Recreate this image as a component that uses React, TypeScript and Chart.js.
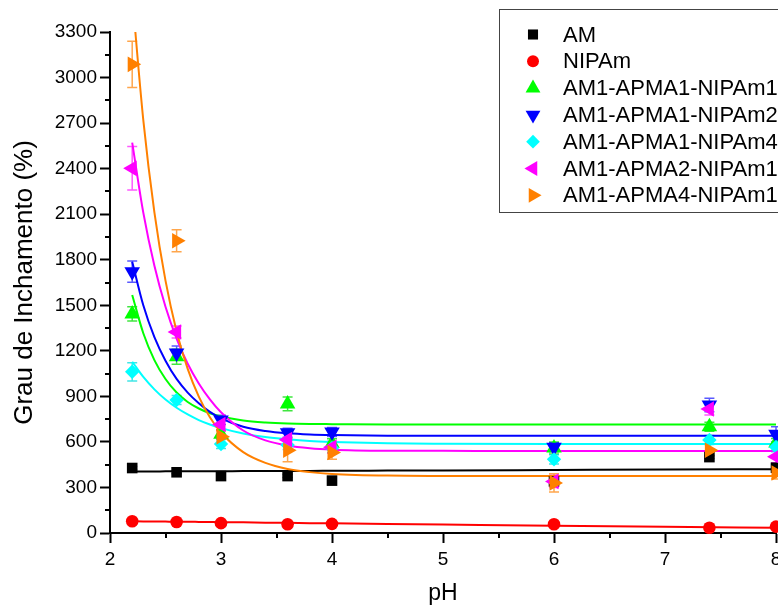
import React, { useEffect, useRef } from 'react';
import { Chart, registerables } from 'chart.js';
import { drawPoint } from 'chart.js/helpers';

Chart.register(...registerables);

const FONT = 'Arial, "Liberation Sans", sans-serif';

// Measured pH values
const PH = [2.2, 2.6, 3.0, 3.6, 4.0, 6.0, 7.4, 8.0];

const SERIES_NAMES = [
  'AM',
  'NIPAm',
  'AM1-APMA1-NIPAm1',
  'AM1-APMA1-NIPAm2',
  'AM1-APMA1-NIPAm4',
  'AM1-APMA2-NIPAm1',
  'AM1-APMA4-NIPAm1',
];
const COLORS = ['#000000', '#ff0000', '#00ff00', '#0000ff', '#00ffff', '#ff00ff', '#ff8000'];
const ERR_COLORS = ['rgba(0,0,0,0.7)', 'rgba(255,0,0,0.7)', 'rgba(0,220,0,0.75)', 'rgba(0,0,255,0.65)', 'rgba(0,220,220,0.75)', 'rgba(255,0,255,0.65)', 'rgba(255,128,0,0.7)'];
const POINT_STYLES = ['rect', 'circle', 'triangle', 'triangle', 'rectRot', 'triangle', 'triangle'];
const POINT_ROTATIONS = [0, 0, 0, 180, 0, 270, 90];
const POINT_RADII = [7.5, 6.3, 9, 9, 7.2, 9, 9];

// Swelling degree (%) values
const AM = [428, 400, 375, 375, 345, 340, 500, 430];
const NIPAM = [77, 72, 65, 58, 60, 58, 35, 42];
const APMA1_NIPAM1 = [1443, 1161, 650, 850, 590, 560, 700, 593];
const APMA1_NIPAM2 = [1721, 1186, 745, 660, 665, 565, 843, 650];
const APMA1_NIPAM4 = [1062, 876, 586, 580, 560, 485, 613, 566];
const APMA2_NIPAM1 = [2402, 1324, 715, 615, 565, 340, 817, 503];
const APMA4_NIPAM1 = [3087, 1925, 634, 545, 530, 330, 545, 395];

// Error bars (±)
const AM_ERR = [10, 10, 10, 10, 10, 10, 10, 10];
const NIPAM_ERR = [5, 5, 5, 5, 5, 5, 5, 5];
const APMA1_NIPAM1_ERR = [47, 50, 30, 45, 30, 40, 30, 30];
const APMA1_NIPAM2_ERR = [70, 45, 30, 30, 30, 30, 45, 50];
const APMA1_NIPAM4_ERR = [60, 30, 30, 30, 30, 30, 30, 30];
const APMA2_NIPAM1_ERR = [143, 40, 40, 40, 40, 40, 40, 40];
const APMA4_NIPAM1_ERR = [152, 73, 40, 75, 45, 60, 40, 40];

// Fitted curves
const FIT_PH = [2.2, 2.3, 2.4, 2.5, 2.6, 2.7, 2.8, 2.9, 3.0, 3.2, 3.4, 3.6, 3.8, 4.0, 4.5, 5, 6, 7, 8];
const FIT_AM = [405, 405, 405, 406, 406, 406, 406, 407, 407, 408, 408, 409, 409, 410, 411, 412, 415, 418, 420];
const FIT_NIPAM = [77, 76, 76, 75, 74, 74, 73, 72, 71, 70, 68, 67, 65, 64, 60, 56, 48, 41, 35];
const FIT_APMA1_NIPAM1 = [1568, 1316, 1139, 1014, 925, 863, 820, 789, 767, 741, 728, 721, 718, 717, 715, 715, 715, 715, 715];
const FIT_APMA1_NIPAM2 = [1787, 1500, 1290, 1135, 1015, 925, 855, 798, 755, 700, 672, 657, 649, 645, 641, 640, 640, 640, 640];
const FIT_APMA1_NIPAM4 = [1128, 1028, 946, 879, 825, 781, 744, 715, 691, 656, 632, 617, 606, 600, 591, 588, 586, 586, 586];
const FIT_APMA2_NIPAM1 = [2571, 2110, 1760, 1490, 1280, 1115, 985, 880, 795, 675, 610, 576, 558, 549, 542, 541, 540, 540, 540];
const FIT_APMA4_NIPAM1 = [3540, 2720, 2112, 1662, 1328, 1081, 898, 762, 662, 533, 462, 422, 401, 389, 378, 376, 375, 375, 375];

const SERIES = [AM, NIPAM, APMA1_NIPAM1, APMA1_NIPAM2, APMA1_NIPAM4, APMA2_NIPAM1, APMA4_NIPAM1];
const ERRORS = [AM_ERR, NIPAM_ERR, APMA1_NIPAM1_ERR, APMA1_NIPAM2_ERR, APMA1_NIPAM4_ERR, APMA2_NIPAM1_ERR, APMA4_NIPAM1_ERR];
const FITS = [FIT_AM, FIT_NIPAM, FIT_APMA1_NIPAM1, FIT_APMA1_NIPAM2, FIT_APMA1_NIPAM4, FIT_APMA2_NIPAM1, FIT_APMA4_NIPAM1];

// Axis ticks
const X_MIN = 2, X_MAX = 8, X_STEP = 1;
const Y_MIN = 0, Y_MAX = 3300, Y_STEP = 300;
const X_MINOR = [2.5, 3.5, 4.5, 5.5, 6.5, 7.5];
const Y_MINOR = [150, 450, 750, 1050, 1350, 1650, 1950, 2250, 2550, 2850, 3150];

const X_TITLE = 'pH';
const Y_TITLE = 'Grau de Inchamento (%)';

const errorBarsPlugin = {
  id: 'errorBars',
  beforeDatasetsDraw(chart: any) {
    const { ctx, scales } = chart;
    const xs = scales.x, ys = scales.y;
    ctx.save();
    ctx.lineWidth = 1.5;
    SERIES.forEach((vals, si) => {
      ctx.strokeStyle = ERR_COLORS[si];
      vals.forEach((v, i) => {
        const e = ERRORS[si][i];
        if (!e) return;
        const px = xs.getPixelForValue(PH[i]);
        const pTop = ys.getPixelForValue(v + e);
        const pBot = ys.getPixelForValue(v - e);
        ctx.beginPath();
        ctx.moveTo(px, pTop); ctx.lineTo(px, pBot);
        ctx.moveTo(px - 5, pTop); ctx.lineTo(px + 5, pTop);
        ctx.moveTo(px - 5, pBot); ctx.lineTo(px + 5, pBot);
        ctx.stroke();
      });
    });
    ctx.restore();
  },
};

const minorTicksPlugin = {
  id: 'minorTicks',
  afterDraw(chart: any) {
    const { ctx, scales, chartArea } = chart;
    ctx.save();
    ctx.strokeStyle = '#000';
    ctx.lineWidth = 2;
    ctx.beginPath();
    Y_MINOR.forEach((v) => {
      const py = Math.round(scales.y.getPixelForValue(v));
      ctx.moveTo(chartArea.left, py);
      ctx.lineTo(chartArea.left - 5, py);
    });
    X_MINOR.forEach((v) => {
      const px = Math.round(scales.x.getPixelForValue(v));
      ctx.moveTo(px, chartArea.bottom);
      ctx.lineTo(px, chartArea.bottom + 5);
    });
    ctx.stroke();
    ctx.restore();
  },
};

const legendPlugin = {
  id: 'customLegend',
  afterDraw(chart: any) {
    const { ctx } = chart;
    ctx.save();
    const bx = 499.5, by = 9.5, bw = 320, bh = 203;
    ctx.fillStyle = '#ffffff';
    ctx.fillRect(bx, by, bw, bh);
    ctx.strokeStyle = '#444';
    ctx.lineWidth = 1;
    ctx.strokeRect(bx, by, bw, bh);
    ctx.font = `22px ${FONT}`;
    ctx.textBaseline = 'middle';
    ctx.textAlign = 'left';
    SERIES_NAMES.forEach((name, i) => {
      const y = 34.5 + i * 26.8;
      ctx.fillStyle = COLORS[i];
      ctx.strokeStyle = COLORS[i];
      drawPoint(ctx, { pointStyle: POINT_STYLES[i], rotation: POINT_ROTATIONS[i], radius: POINT_RADII[i] * 0.95, borderWidth: 0 } as any, 533, y);
      ctx.fillStyle = '#000';
      ctx.fillText(name, 563, y + 1);
    });
    ctx.restore();
  },
};

export default function App() {
  const ref = useRef<HTMLCanvasElement | null>(null);

  useEffect(() => {
    document.body.style.margin = '0';
    const canvas = ref.current;
    if (!canvas) return;

    const fitSets = FITS.map((vals, si) => ({
      label: SERIES_NAMES[si] + ' fit',
      data: FIT_PH.map((x, i) => ({ x, y: vals[i] })),
      showLine: true,
      borderColor: COLORS[si],
      backgroundColor: COLORS[si],
      borderWidth: 2,
      pointRadius: 0,
      cubicInterpolationMode: 'monotone' as const,
      order: 30 - si,
    }));

    const pointSets = SERIES.map((vals, si) => ({
      label: SERIES_NAMES[si],
      data: PH.map((x, i) => ({ x, y: vals[i] })),
      showLine: false,
      pointStyle: POINT_STYLES[si],
      rotation: POINT_ROTATIONS[si],
      pointRadius: POINT_RADII[si],
      borderWidth: 0,
      backgroundColor: COLORS[si],
      borderColor: COLORS[si],
      clip: false,
      order: 10 - si,
    }));

    const chart = new Chart(canvas, {
      type: 'scatter',
      data: { datasets: [...fitSets, ...pointSets] as any },
      plugins: [errorBarsPlugin, minorTicksPlugin, legendPlugin],
      options: {
        animation: false,
        responsive: false,
        devicePixelRatio: 1,
        events: [],
        layout: { padding: { top: 32, right: 2, left: 0, bottom: 0 }, autoPadding: false } as any,
        plugins: { legend: { display: false }, tooltip: { enabled: false } },
        scales: {
          x: {
            type: 'linear',
            min: X_MIN,
            max: X_MAX,
            ticks: {
              stepSize: X_STEP,
              color: '#000',
              font: { size: 19, family: FONT },
              padding: 5,
              maxRotation: 0,
              autoSkip: false,
              callback: (v: any) => String(v),
            },
            grid: { drawOnChartArea: false, drawTicks: true, tickLength: 10, tickWidth: 2, tickColor: '#000' },
            border: { display: true, color: '#000', width: 2 },
            title: { display: true, text: X_TITLE, color: '#000', font: { size: 23, family: FONT }, padding: { top: 0, bottom: 0 } },
            afterFit: (s: any) => { s.height = 74; s.paddingLeft = 0; s.paddingRight = 0; },
          },
          y: {
            type: 'linear',
            min: Y_MIN,
            max: Y_MAX,
            ticks: {
              stepSize: Y_STEP,
              color: '#000',
              font: { size: 19, family: FONT },
              padding: 3,
              autoSkip: false,
              callback: (v: any) => String(v),
            },
            grid: { drawOnChartArea: false, drawTicks: true, tickLength: 10, tickWidth: 2, tickColor: '#000' },
            border: { display: true, color: '#000', width: 2 },
            title: { display: true, text: Y_TITLE, color: '#000', font: { size: 26, family: FONT }, padding: { top: 9, bottom: 0 } },
            afterFit: (s: any) => { s.width = 110; s.paddingTop = 0; s.paddingBottom = 0; },
          },
        },
      } as any,
    });
    return () => chart.destroy();
  }, []);

  return (
    <div style={{ position: 'fixed', left: 0, top: 0, width: 778, height: 607, background: '#fff' }}>
      <canvas ref={ref} width={778} height={607} />
    </div>
  );
}
